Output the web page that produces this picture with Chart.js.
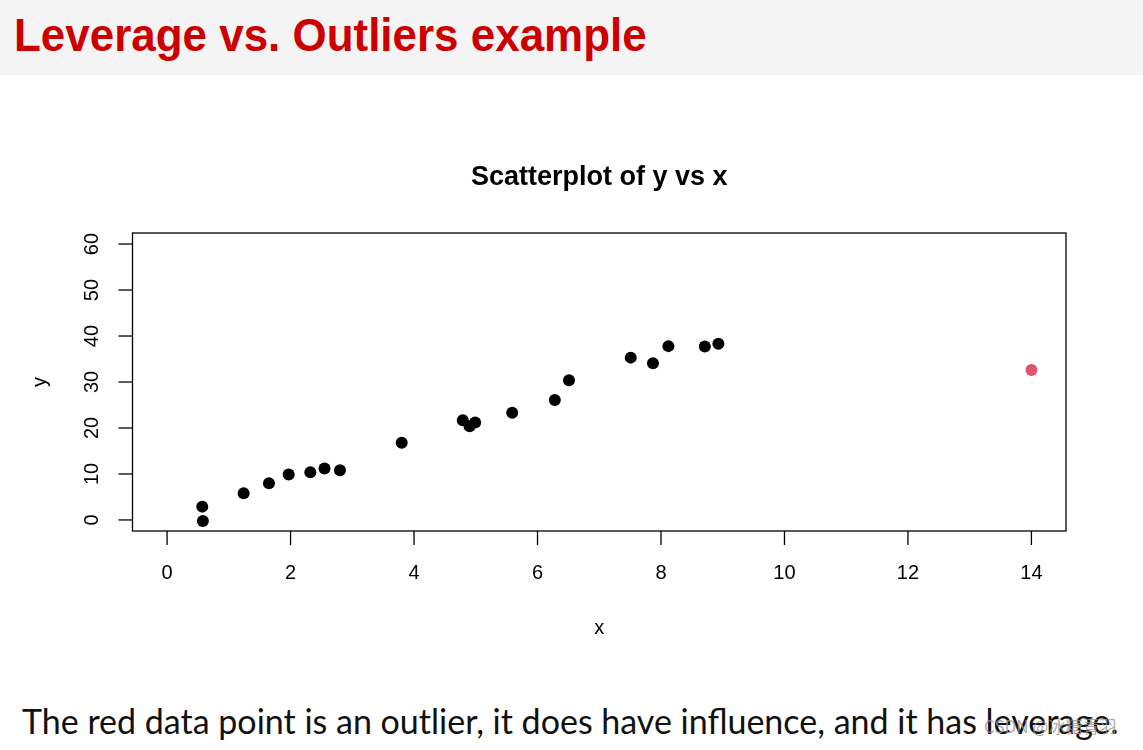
<!DOCTYPE html>
<html>
<head>
<meta charset="utf-8">
<script src="https://cdn.jsdelivr.net/npm/chart.js@4"></script>
<style>
  html, body { margin: 0; padding: 0; background: #fff; }
  body { width: 1143px; height: 750px; position: relative; overflow: hidden; }
  .head {
    position: absolute; left: 0; top: 0; width: 1143px; height: 75px;
    background: #f4f4f4;
  }
  .head h1 {
    margin: 0; position: absolute; left: 14px; top: 7px;
    font: bold 47px 'Liberation Sans Narrow', 'Liberation Sans', sans-serif;
    color: #cc0000; transform-origin: 0 0; transform: scaleX(0.935);
    white-space: nowrap;
  }
  #plot { position: absolute; left: 0; top: 140px; }
  .caption {
    position: absolute; left: 22px; top: 700px; white-space: nowrap;
    font: 34px Lato, 'Noto Sans', sans-serif; color: #111;
  }
  .mark {
    position: absolute; left: 984px; top: 713px; white-space: nowrap;
    font: 17px 'Noto Sans CJK SC', sans-serif; color: rgba(150,150,150,0.8);
  }
</style>
</head>
<body>
<div class="head"><h1>Leverage vs. Outliers example</h1></div>
<canvas id="plot" width="1143" height="520"></canvas>
<div class="caption">The red data point is an outlier, it does have influence, and it has leverage.</div>
<div class="mark">CSDN @冰糖青羽</div>
<script>
// ── DATA ─────────────────────────────────────────────────────────────────────
const xVals = [0.57, 0.58, 1.24, 1.65, 1.97, 2.32, 2.55, 2.80, 3.80, 4.79,
               4.90, 4.99, 5.59, 6.28, 6.51, 7.51, 7.87, 8.12, 8.71, 8.93];
const yVals = [2.9, -0.2, 5.8, 8.0, 9.9, 10.4, 11.2, 10.8, 16.8, 21.7,
               20.4, 21.2, 23.3, 26.1, 30.4, 35.3, 34.1, 37.8, 37.7, 38.3];
const outX = [14.0];
const outY = [32.6];
const xTicks = [0, 2, 4, 6, 8, 10, 12, 14];
const yTicks = [0, 10, 20, 30, 40, 50, 60];

const mainPts = xVals.map((x, i) => ({ x, y: yVals[i] }));
const outPts  = outX.map((x, i) => ({ x, y: outY[i] }));

// ── R-STYLE BOX + AXES ───────────────────────────────────────────────────────
const rAxes = {
  id: "rAxes",
  afterDraw(chart) {
    const { ctx, chartArea: a, scales } = chart;
    const sx = scales.x, sy = scales.y;
    ctx.save();
    ctx.strokeStyle = "#000";
    ctx.lineWidth = 1.3;
    ctx.strokeRect(a.left, a.top, a.right - a.left, a.bottom - a.top);

    ctx.fillStyle = "#000";
    ctx.font = "20px 'Liberation Sans', Arial, sans-serif";
    ctx.textAlign = "center";
    ctx.textBaseline = "middle";

    // x axis
    sx.ticks.forEach(t => {
      const px = sx.getPixelForValue(t.value);
      ctx.beginPath();
      ctx.moveTo(px, a.bottom);
      ctx.lineTo(px, a.bottom + 14);
      ctx.stroke();
      ctx.fillText(String(t.value), px, a.bottom + 42);
    });

    // y axis
    sy.ticks.forEach(t => {
      const py = sy.getPixelForValue(t.value);
      ctx.beginPath();
      ctx.moveTo(a.left, py);
      ctx.lineTo(a.left - 14, py);
      ctx.stroke();
      ctx.save();
      ctx.translate(a.left - 40, py);
      ctx.rotate(-Math.PI / 2);
      ctx.fillText(String(t.value), 0, 0);
      ctx.restore();
    });

    // axis titles
    const midX = (a.left + a.right) / 2, midY = (a.top + a.bottom) / 2;
    ctx.fillText("x", midX, a.bottom + 97);
    ctx.save();
    ctx.translate(40, midY);
    ctx.rotate(-Math.PI / 2);
    ctx.fillText("y", 0, 0);
    ctx.restore();
    ctx.restore();
  }
};

new Chart(document.getElementById("plot"), {
  type: "scatter",
  data: {
    datasets: [
      { data: mainPts, backgroundColor: "#000", borderWidth: 0, pointRadius: 6 },
      { data: outPts, backgroundColor: "#DF536B", borderWidth: 0, pointRadius: 6 }
    ]
  },
  options: {
    responsive: false,
    animation: false,
    layout: { padding: { left: 132.5, right: 77, top: 0, bottom: 129 } },
    plugins: {
      legend: { display: false },
      tooltip: { enabled: false },
      title: {
        display: true,
        text: "Scatterplot of y vs x",
        color: "#000",
        font: { family: "'Liberation Sans', Arial, sans-serif", size: 27, weight: "bold", lineHeight: 1.2 },
        padding: { top: 21.8, bottom: 38.8 }
      }
    },
    scales: {
      x: {
        type: "linear", min: -0.56, max: 14.56, display: false,
        afterBuildTicks: s => { s.ticks = xTicks.map(v => ({ value: v })); }
      },
      y: {
        type: "linear", min: -2.4, max: 62.4, display: false,
        afterBuildTicks: s => { s.ticks = yTicks.map(v => ({ value: v })); }
      }
    }
  },
  plugins: [rAxes]
});
</script>
</body>
</html>
